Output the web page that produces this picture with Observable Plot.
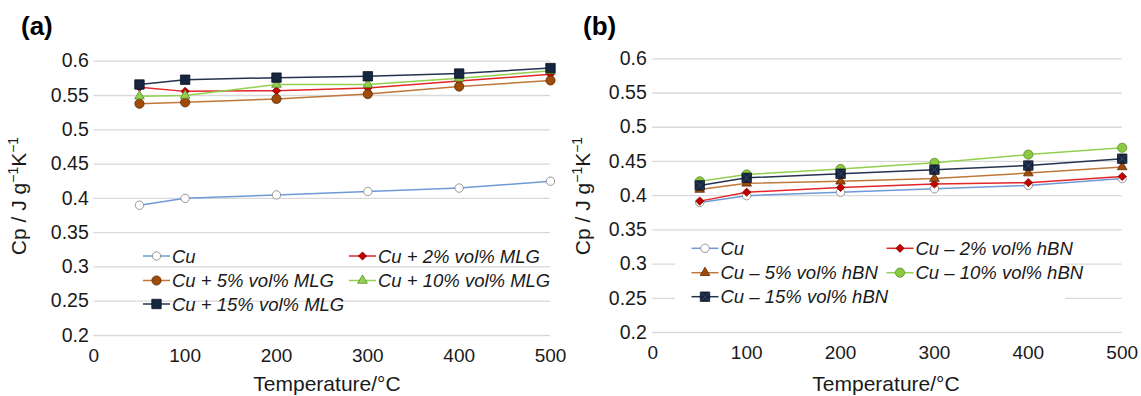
<!DOCTYPE html>
<html><head><meta charset="utf-8">
<script src="https://cdn.jsdelivr.net/npm/d3@7"></script>
<script src="https://cdn.jsdelivr.net/npm/@observablehq/plot@0.6"></script>
<style>
body{margin:0;background:#fff;}
#wrap{position:relative;width:1141px;height:396px;overflow:hidden;background:#fff;}
.panel{position:absolute;top:0;}
</style></head><body><div id="wrap"></div>
<script>
// ---------- data ----------
const temps = [50, 100, 200, 300, 400, 500];
const xTicks = [0, 100, 200, 300, 400, 500];
const yTicks = [0.2, 0.25, 0.3, 0.35, 0.4, 0.45, 0.5, 0.55, 0.6];
const yTickLabels = ["0.2", "0.25", "0.3", "0.35", "0.4", "0.45", "0.5", "0.55", "0.6"];
const xTitle = "Temperature/°C";

const namesA = ["Cu", "Cu + 2% vol% MLG", "Cu + 5% vol% MLG", "Cu + 10% vol% MLG", "Cu + 15% vol% MLG"];
const cuA     = [0.390, 0.400, 0.405, 0.410, 0.415, 0.425];
const mlg2    = [0.562, 0.556, 0.557, 0.561, 0.571, 0.581];
const mlg5    = [0.538, 0.540, 0.545, 0.552, 0.563, 0.572];
const mlg10   = [0.549, 0.550, 0.566, 0.566, 0.575, 0.586];
const mlg15   = [0.566, 0.573, 0.576, 0.578, 0.582, 0.590];

const namesB = ["Cu", "Cu – 2% vol% hBN", "Cu – 5% vol% hBN", "Cu – 10% vol% hBN", "Cu – 15% vol% hBN"];
const cuB     = [0.390, 0.400, 0.405, 0.410, 0.415, 0.425];
const hbn2    = [0.392, 0.405, 0.412, 0.417, 0.419, 0.428];
const hbn5    = [0.409, 0.418, 0.421, 0.425, 0.433, 0.442];
const hbn10   = [0.421, 0.431, 0.439, 0.448, 0.460, 0.470];
const hbn15   = [0.415, 0.426, 0.432, 0.438, 0.444, 0.454];

// ---------- styles ----------
const FONT = '"Liberation Sans", Arial, Helvetica, sans-serif';
const TXT = "#1a1a1a";
const stCu  = {line: "#6f9ad6", symbol: "circle",    r: 4.2, fill: "white",   stroke: "#7f7f7f"};
const stRed = {line: "#e3262a", symbol: "diamond2",  r: 3.7, fill: "#c00000", stroke: "#8a0000"};
const stBrC = {line: "#c0773a", symbol: "circle",    r: 4.6, fill: "#a04c08", stroke: "#5a2a05"};
const stBrT = {line: "#c0773a", symbol: "triangle2", r: 4.6, fill: "#a04c08", stroke: "#5a2a05"};
const stGrT = {line: "#92d050", symbol: "triangle2", r: 4.6, fill: "#92d050", stroke: "#5b8c2a"};
const stGrC = {line: "#92d050", symbol: "circle",    r: 4.6, fill: "#8cc840", stroke: "#5b8c2a"};
const stNv  = {line: "#24334f", symbol: "square2",   r: 6.0, fill: "#17263f", stroke: "#0b1424"};
const stNvX = {line: "#24334f", symbol: "square2",   r: 6.0, fill: "#17263f", stroke: "#0b1424", cross: true};

const symMap = {circle: d3.symbolCircle, diamond2: d3.symbolDiamond2, triangle2: d3.symbolTriangle2, square2: d3.symbolSquare2};

function makePanel(cfg) {
  const rows = [];
  cfg.series.forEach((vals, i) => vals.forEach((v, j) => rows.push({k: i, t: temps[j], cp: v})));
  const marks = [
    Plot.gridY(yTicks, {stroke: "#d9d9d9", strokeOpacity: 1, strokeWidth: 1.3}),
    Plot.axisY(yTicks, {tickSize: 0, tickPadding: cfg.yPad, label: null, fontSize: 19.5,
      tickFormat: d => yTickLabels[yTicks.indexOf(d)]}),
    Plot.axisX(xTicks, {tickSize: 0, tickPadding: 13, label: null, fontSize: 19})
  ];
  cfg.series.forEach((vals, i) => {
    const st = cfg.styles[i];
    const data = rows.filter(r => r.k === i);
    marks.push(Plot.line(data, {x: "t", y: "cp", stroke: st.line, strokeWidth: 1.5}));
    marks.push(Plot.dot(data, {x: "t", y: "cp", symbol: st.symbol, r: st.r, fill: st.fill, stroke: st.stroke, strokeWidth: 0.8}));
    if (st.cross) marks.push(Plot.dot(data, {x: "t", y: "cp", symbol: "times", r: 4.2, stroke: "#3d4d6b", strokeWidth: 0.8}));
  });
  const svgEl = Plot.plot({
    width: cfg.width, height: 396,
    marginLeft: cfg.ml, marginRight: cfg.mr, marginTop: cfg.mt, marginBottom: cfg.mb,
    x: {domain: [0, 500]}, y: {domain: [0.2, 0.6]},
    style: {fontFamily: FONT, fontSize: "19px", color: TXT, background: "white", overflow: "visible"},
    marks
  });
  const svg = d3.select(svgEl);
  // panel label
  svg.append("text").attr("x", cfg.lab[0]).attr("y", cfg.lab[1]).attr("text-anchor", "start")
    .style("font-family", FONT).style("font-weight", "bold").style("font-size", "26px").attr("fill", "#000")
    .text(cfg.label);
  // x title
  svg.append("text").attr("x", cfg.xt[0]).attr("y", cfg.xt[1]).attr("text-anchor", "middle")
    .style("font-family", FONT).style("font-size", "21px").attr("fill", TXT).text(xTitle);
  // y title with superscripts
  const yt = svg.append("text").attr("transform", `translate(${cfg.yt[0]},${cfg.yt[1]}) rotate(-90)`)
    .attr("text-anchor", "middle").style("font-family", FONT).style("font-size", "21px").attr("fill", TXT);
  yt.append("tspan").text("Cp / J g");
  yt.append("tspan").attr("dy", -8).style("font-size", "14px").text("−1");
  yt.append("tspan").attr("dy", 8).text("K");
  yt.append("tspan").attr("dy", -8).style("font-size", "14px").text("−1");
  // legend
  const lg = svg.append("g").attr("text-anchor", "start");
  if (cfg.legBox) lg.append("rect").attr("x", cfg.legBox[0]).attr("y", cfg.legBox[1])
      .attr("width", cfg.legBox[2]).attr("height", cfg.legBox[3]).attr("fill", "white");
  cfg.legend.forEach((it, idx) => {
    const st = cfg.styles[idx];
    const [x0, cy] = it;
    lg.append("line").attr("x1", x0).attr("x2", x0 + 27).attr("y1", cy).attr("y2", cy)
      .attr("stroke", st.line).attr("stroke-width", 1.5);
    const size = st.r * st.r * Math.PI;
    lg.append("path").attr("transform", `translate(${x0 + 13.5},${cy})`)
      .attr("d", d3.symbol(symMap[st.symbol], size)())
      .attr("fill", st.fill).attr("stroke", st.stroke).attr("stroke-width", 0.8);
    if (st.cross) lg.append("path").attr("transform", `translate(${x0 + 13.5},${cy})`)
      .attr("d", d3.symbol(d3.symbolTimes, 4.2 * 4.2 * Math.PI)())
      .attr("fill", "none").attr("stroke", "#3d4d6b").attr("stroke-width", 0.8);
    lg.append("text").attr("x", x0 + 29).attr("y", cy).attr("dy", "0.36em").attr("text-anchor", "start")
      .style("font-family", FONT).style("font-style", "italic").style("font-size", "18.5px")
      .attr("fill", TXT).text(cfg.names[idx]);
  });
  const div = document.createElement("div");
  div.className = "panel";
  div.style.left = cfg.left + "px";
  div.appendChild(svgEl);
  document.getElementById("wrap").appendChild(div);
}

makePanel({
  left: 0, width: 570, ml: 93.3, mr: 20, mt: 60.7, mb: 61, yPad: 5,
  series: [cuA, mlg2, mlg5, mlg10, mlg15],
  styles: [stCu, stRed, stBrC, stGrT, stNv],
  names: namesA,
  label: "(a)", lab: [21, 35],
  xt: [327, 391], yt: [26, 196],
  legend: [[143, 256], [349, 256], [143, 280.5], [349, 280.5], [143, 304]]
});
makePanel({
  left: 570, width: 571, ml: 82.3, mr: 19.3, mt: 58.3, mb: 64, yPad: 6,
  series: [cuB, hbn2, hbn5, hbn10, hbn15],
  styles: [stCu, stRed, stBrT, stGrC, stNvX],
  names: namesB,
  label: "(b)", lab: [13, 35],
  xt: [316, 391], yt: [20, 196],
  legBox: [105, 236, 390, 72],
  legend: [[121.5, 248.3], [316.5, 248.3], [121.5, 272.7], [316.5, 272.7], [121.5, 296.7]]
});
</script></body></html>
